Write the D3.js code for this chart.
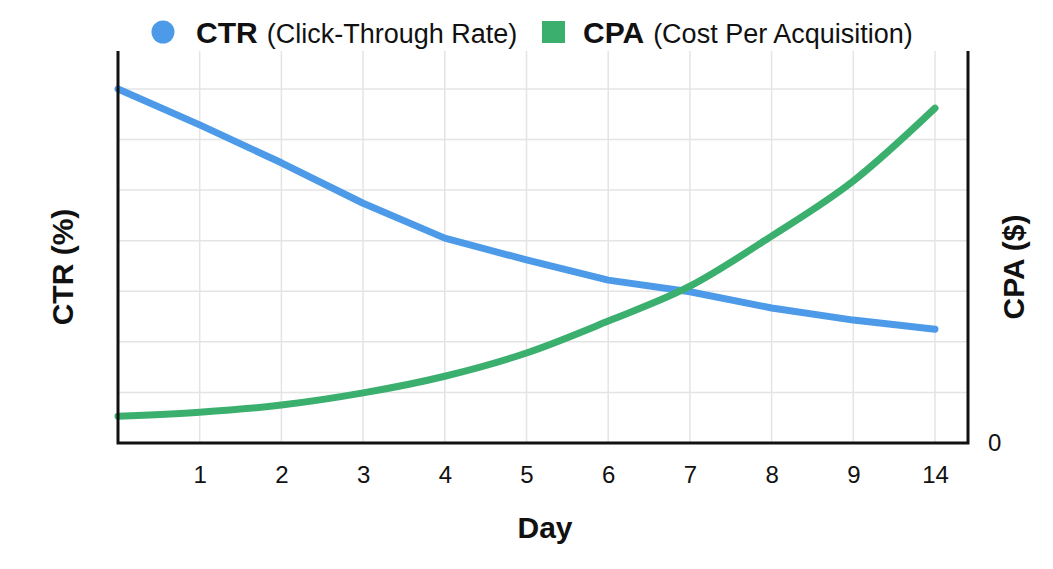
<!DOCTYPE html>
<html><head><meta charset="utf-8">
<script src="https://cdn.jsdelivr.net/npm/d3@7"></script>
<style>
body{margin:0;background:#fff}
svg{display:block}
text{font-family:"Liberation Sans",Arial,Helvetica,sans-serif;fill:#111}
</style>
</head><body>
<svg id="c" width="1053" height="569"></svg>
<script>
// ---- data ----
const days = ["0","1","2","3","4","5","6","7","8","9","14"];
const dayTicks = ["1","2","3","4","5","6","7","8","9","14"];
const ctrValues = [7.0, 6.29, 5.54, 4.74, 4.05, 3.62, 3.22, 2.99, 2.67, 2.43, 2.25];
const cpaValues = [5.3, 6.1, 7.5, 9.9, 13.2, 17.8, 24.1, 31.0, 40.9, 51.8, 66.2];
const ctrGrid = [1,2,3,4,5,6,7];
const cpaTicks = [0];
const legendItems = [
  {key:"CTR", desc:"(Click-Through Rate)", shape:"circle", color:"#4d9be8"},
  {key:"CPA", desc:"(Cost Per Acquisition)", shape:"square", color:"#3bb06e"}
];

// ---- layout ----
const L = 118, R = 968, T = 51, B = 443;
const xEnd = 935;
const svg = d3.select("#c");

const x = d3.scalePoint().domain(days).range([L, xEnd]).padding(0);
const yCtr = d3.scaleLinear().domain([0, 7.75]).range([B, T]);
const yCpa = d3.scaleLinear().domain([0, 77.5]).range([B, T]);

// grid
const grid = svg.append("g").attr("stroke","#e4e4e4").attr("stroke-width",1.5);
grid.selectAll("line.h").data(ctrGrid).join("line").attr("class","h")
  .attr("x1",L).attr("x2",R).attr("y1",d=>yCtr(d)).attr("y2",d=>yCtr(d));
grid.selectAll("line.v").data(dayTicks).join("line").attr("class","v")
  .attr("x1",d=>x(d)).attr("x2",d=>x(d)).attr("y1",T).attr("y2",B);

// lines
const lineCtr = d3.line().x((d,i)=>x(days[i])).y(d=>yCtr(d)).curve(d3.curveLinear);
const lineCpa = d3.line().x((d,i)=>x(days[i])).y(d=>yCpa(d)).curve(d3.curveMonotoneX);
svg.append("path").datum(ctrValues).attr("d",lineCtr)
  .attr("fill","none").attr("stroke",legendItems[0].color).attr("stroke-width",7)
  .attr("stroke-linecap","round").attr("stroke-linejoin","round");
svg.append("path").datum(cpaValues).attr("d",lineCpa)
  .attr("fill","none").attr("stroke",legendItems[1].color).attr("stroke-width",7)
  .attr("stroke-linecap","round").attr("stroke-linejoin","round");

// axes
const xAxis = svg.append("g").attr("transform",`translate(0,${B})`)
  .call(d3.axisBottom(x).tickValues(dayTicks).tickSize(0).tickPadding(23));
xAxis.select(".domain").remove();
xAxis.selectAll("text").attr("font-size",24).attr("fill","#111");

const yR = svg.append("g").attr("transform",`translate(${R},0)`)
  .call(d3.axisRight(yCpa).tickValues(cpaTicks).tickSize(0).tickPadding(20));
yR.select(".domain").remove();
yR.selectAll("text").attr("font-size",24).attr("fill","#111");

const frame = svg.append("g").attr("stroke","#111").attr("stroke-width",3).attr("fill","none");
frame.append("path").attr("d",`M${L},${T}V${B}H${R}V${T}`).attr("stroke-linejoin","miter");

// axis titles
svg.append("text").attr("transform",`translate(73,${(T+B)/2+20}) rotate(-90)`)
  .attr("text-anchor","middle").attr("font-size",30).attr("font-weight","bold").text("CTR (%)");
svg.append("text").attr("transform",`translate(1024,${(T+B)/2+20}) rotate(-90)`)
  .attr("text-anchor","middle").attr("font-size",30).attr("font-weight","bold").text("CPA ($)");
svg.append("text").attr("x",545).attr("y",538)
  .attr("text-anchor","middle").attr("font-size",30).attr("font-weight","bold").text("Day");

// legend
const legendX = [152, 542];
legendItems.forEach((it,i)=>{
  const g = svg.append("g").attr("transform",`translate(${legendX[i]},0)`);
  if(it.shape==="circle") g.append("circle").attr("cx",11).attr("cy",32).attr("r",11.5).attr("fill",it.color);
  else g.append("rect").attr("x",0).attr("y",21).attr("width",23).attr("height",22).attr("fill",it.color);
  const t = g.append("text").attr("x",i===0?44:41).attr("y",43);
  t.append("tspan").attr("font-size",30).attr("font-weight","bold").text(it.key);
  t.append("tspan").attr("dx",9).attr("font-size",27).text(it.desc);
});
</script>
</body></html>
